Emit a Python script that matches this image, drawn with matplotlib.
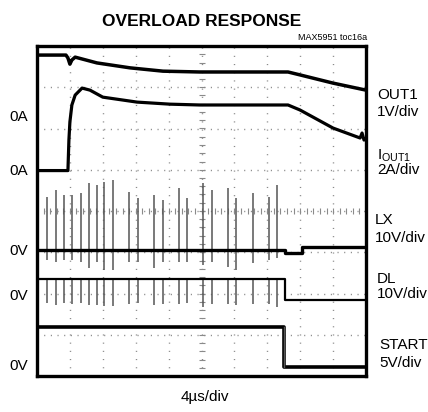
import numpy as np
import matplotlib.pyplot as plt

# time axis in divisions (4us/div), amplitude in divisions (0 = bottom of screen)
out1_t = [0, 0.88, 0.94, 1.0, 1.06, 1.16, 1.82, 2.83, 3.83, 4.95, 7.63, 7.99, 9.0, 10]
out1_v = [7.78, 7.78, 7.71, 7.56, 7.66, 7.73, 7.59, 7.47, 7.39, 7.37, 7.37, 7.30, 7.10, 6.93]

iout_t = [0, 0.94, 0.97, 1.0, 1.06, 1.16, 1.37, 1.61, 2.0, 3.04, 4.04, 4.95, 7.63, 7.99, 9.0, 9.82, 9.88, 9.94, 10]
iout_v = [4.98, 4.98, 5.72, 6.16, 6.57, 6.81, 6.98, 6.93, 6.76, 6.64, 6.59, 6.57, 6.57, 6.45, 6.01, 5.77, 5.89, 5.72, 5.75]

# LX baseline and switching pulses
lx_t = [0, 7.54, 7.54, 8.05, 8.05, 10]
lx_v = [3.05, 3.05, 2.98, 2.98, 3.13, 3.13]
pulse_t = [0.31, 0.58, 0.82, 1.07, 1.33, 1.58, 1.81, 2.05, 2.30, 2.81, 3.07,
           3.56, 3.82, 4.32, 4.57, 5.05, 5.31, 5.81, 6.06, 6.56, 7.05, 7.30]
lx_top = [4.35, 4.51, 4.39, 4.39, 4.44, 4.68, 4.63, 4.71, 4.75, 4.47, 4.32,
          4.39, 4.27, 4.56, 4.32, 4.68, 4.51, 4.56, 4.32, 4.44, 4.34, 4.63]
lx_bot = [2.81, 2.76, 2.81, 2.81, 2.76, 2.62, 2.76, 2.57, 2.57, 2.76, 2.76,
          2.62, 2.76, 2.76, 2.76, 2.69, 2.76, 2.64, 2.57, 2.74, 2.81, 2.86]

# DL gate drive
dl_t = [0, 7.54, 7.54, 10]
dl_v = [2.35, 2.35, 1.85, 1.85]
dl_bot = [1.76, 1.72, 1.76, 1.75, 1.78, 1.72, 1.72, 1.70, 1.70, 1.75, 1.76,
          1.72, 1.75, 1.75, 1.76, 1.68, 1.75, 1.75, 1.72, 1.75, 1.75, 1.68]

# STARTUP
st_t = [0, 7.52, 7.52, 10]
st_v = [1.19, 1.19, 0.22, 0.22]

W, H = 428, 412
fig = plt.figure(figsize=(W / 100, H / 100), dpi=100)
ax = fig.add_axes([37 / W, 36 / H, 329 / W, 330 / H])
ax.set_xlim(0, 10)
ax.set_ylim(0, 8)
ax.set_xticks([])
ax.set_yticks([])
for s in ax.spines.values():
    s.set_linewidth(2.4)

# graticule
gcol = '#8a8a8a'
for i in range(1, 10):
    ax.axvline(i, color=gcol, lw=1, ls=(0, (0.8, 5.1)), zorder=1)
for j in range(1, 8):
    ax.axhline(j, color=gcol, lw=1, ls=(0, (0.8, 4.0)), zorder=1)
ticks_x = np.arange(0.2, 10, 0.2)
ticks_y = np.arange(0.2, 8, 0.2)
ax.plot(ticks_x, np.full_like(ticks_x, 4), ls='none', marker='|', ms=4, color=gcol, mew=0.8)
ax.plot(np.full_like(ticks_y, 5), ticks_y, ls='none', marker='_', ms=4, color=gcol, mew=0.8)

# traces
ax.vlines(pulse_t, lx_bot, lx_top, color='#555555', lw=1.1, zorder=3)
ax.vlines(pulse_t, dl_bot, dl_v[0], color='#555555', lw=1.1, zorder=3)
ax.plot(out1_t, out1_v, color='black', lw=2.5, zorder=4)
ax.plot(iout_t, iout_v, color='black', lw=2.3, zorder=4)
ax.plot(lx_t, lx_v, color='black', lw=2.4, zorder=4)
ax.plot(dl_t, dl_v, color='black', lw=1.6, zorder=4)
ax.plot(st_t, st_v, color='black', lw=2.6, zorder=4)
ax.plot([7.52, 7.52], [0.22, 1.19], color='#555555', lw=1.0, zorder=4)

sans = ['Liberation Sans', 'DejaVu Sans']


def px(x, y, s, **kw):
    fig.text(x / W, 1 - y / H, s, family=sans, **kw)


px(202, 21, 'OVERLOAD RESPONSE', fontsize=12.5, weight='bold', ha='center', va='center')
px(367, 38, 'MAX5951 toc16a', fontsize=6.5, ha='right', va='center')
px(205, 397, '4\u00b5s/div', fontsize=11, ha='center', va='center')

for y, s in [(117, '0A'), (171, '0A'), (251, '0V'), (296, '0V'), (366, '0V')]:
    px(9, y, s, fontsize=11, va='center')

fs = 11
px(377, 95, 'OUT1', fontsize=fs, va='center')
px(377, 112, '1V/div', fontsize=fs, va='center')
px(377, 156, r'I$_{\mathregular{OUT1}}$', fontsize=fs, va='center')
px(377, 170, '2A/div', fontsize=fs, va='center')
px(375, 220, 'LX', fontsize=fs, va='center')
px(375, 238, '10V/div', fontsize=fs, va='center')
px(377, 279, 'DL', fontsize=fs, va='center')
px(377, 294, '10V/div', fontsize=fs, va='center')
px(379, 345, 'STARTUP', fontsize=fs, va='center')
px(379, 363, '5V/div', fontsize=fs, va='center')

fig.savefig('out.png', dpi=100)
